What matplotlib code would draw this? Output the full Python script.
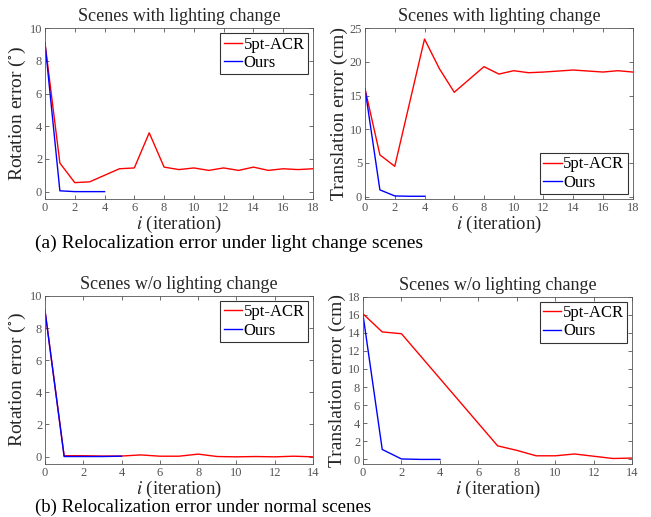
import matplotlib
matplotlib.use("Agg")
import matplotlib.pyplot as plt

plt.rcParams['font.family'] = ['Liberation Serif', 'DejaVu Serif']
plt.rcParams['mathtext.fontset'] = 'stix'

# rotation error, lighting change
rot_light_x_acr = [0, 1, 2, 3, 4, 5, 6, 7, 8, 9, 10, 11, 12, 13, 14, 15, 16, 17, 18]
rot_light_acr = [9.1, 1.75, 0.55, 0.6, 1.0, 1.4, 1.45, 3.6, 1.5, 1.35, 1.45, 1.3, 1.45, 1.3, 1.5, 1.3, 1.4, 1.35, 1.4]
rot_light_x_ours = [0, 1, 2, 3, 4]
rot_light_ours = [9.1, 0.05, 0.0, 0.0, 0.0]

# translation error, lighting change
trans_light_x_acr = [0, 1, 2, 4, 5, 6, 8, 9, 10, 11, 12, 14, 16, 17, 18]
trans_light_acr = [16.0, 6.2, 4.5, 23.4, 19.0, 15.5, 19.3, 18.2, 18.7, 18.4, 18.5, 18.8, 18.5, 18.7, 18.5]
trans_light_x_ours = [0, 1, 2, 3, 4]
trans_light_ours = [16.0, 1.0, 0.1, 0.05, 0.05]

# rotation error, no lighting change
rot_norm_x_acr = [0, 1, 2, 3, 4, 5, 6, 7, 8, 9, 10, 11, 12, 13, 14]
rot_norm_acr = [9.1, 0.05, 0.05, 0.03, 0.03, 0.1, 0.02, 0.02, 0.15, 0.0, -0.02, 0.0, -0.02, 0.02, -0.02]
rot_norm_x_ours = [0, 1, 2, 3, 4]
rot_norm_ours = [9.1, 0.0, 0.0, 0.0, 0.02]

# translation error, no lighting change
trans_norm_x_acr = [0, 1, 2, 7, 8, 9, 10, 11, 12, 13, 14]
trans_norm_acr = [16.1, 14.1, 13.9, 1.5, 1.0, 0.4, 0.4, 0.6, 0.35, 0.1, 0.15]
trans_norm_x_ours = [0, 1, 2, 3, 4]
trans_norm_ours = [16.0, 1.1, 0.05, 0.0, 0.0]

fig = plt.figure(figsize=(6.51, 5.17), dpi=100)

gray = '#262626'
tick_gray = '#555555'


def setup(ax, title, ylabel, xmax, ylim, yticks, legend_loc):
    ax.set_xlim(0, xmax)
    ax.set_ylim(*ylim)
    ax.set_xticks(range(0, xmax + 1, 2))
    ax.set_yticks(yticks)
    ax.tick_params(direction='in', top=True, right=True, length=3, width=0.6,
                   labelsize=9, colors=tick_gray, pad=2)
    for s in ax.spines.values():
        s.set_color(tick_gray)
        s.set_linewidth(0.6)
    ax.set_title(title, fontsize=13, color=gray, pad=5)
    ax.set_ylabel(ylabel, fontsize=14, color=gray, labelpad=1)
    ax.set_xlabel('$i$ (iteration)', fontsize=13.5, color=gray, labelpad=0)
    leg = ax.legend(loc=legend_loc, fontsize=12, fancybox=False, handlelength=1.1,
                    handletextpad=0.1, borderpad=0.2, labelspacing=0.15,
                    borderaxespad=0.3)
    leg.get_frame().set_edgecolor('black')
    leg.get_frame().set_linewidth(0.8)


ax1 = fig.add_axes([0.0691, 0.6145, 0.4117, 0.3308])
ax1.plot(rot_light_x_acr, rot_light_acr, color='red', lw=1.0, label='5pt-ACR')
ax1.plot(rot_light_x_ours, rot_light_ours, color='blue', lw=1.0, label='Ours')
setup(ax1, 'Scenes with lighting change', 'Rotation error ($^{\\circ}$)', 18,
      (-0.47, 10), [0, 2, 4, 6, 8, 10], 'upper right')

ax2 = fig.add_axes([0.5607, 0.6145, 0.4112, 0.3308])
ax2.plot(trans_light_x_acr, trans_light_acr, color='red', lw=1.0, label='5pt-ACR')
ax2.plot(trans_light_x_ours, trans_light_ours, color='blue', lw=1.0, label='Ours')
setup(ax2, 'Scenes with lighting change', 'Translation error (cm)', 18,
      (-0.4, 25), [0, 5, 10, 15, 20, 25], 'lower right')

ax3 = fig.add_axes([0.0691, 0.1030, 0.4117, 0.3245])
ax3.plot(rot_norm_x_acr, rot_norm_acr, color='red', lw=1.0, label='5pt-ACR')
ax3.plot(rot_norm_x_ours, rot_norm_ours, color='blue', lw=1.0, label='Ours')
setup(ax3, 'Scenes w/o lighting change', 'Rotation error ($^{\\circ}$)', 14,
      (-0.45, 10), [0, 2, 4, 6, 8, 10], 'upper right')

ax4 = fig.add_axes([0.5576, 0.1030, 0.4136, 0.3232])
ax4.plot(trans_norm_x_acr, trans_norm_acr, color='red', lw=1.0, label='5pt-ACR')
ax4.plot(trans_norm_x_ours, trans_norm_ours, color='blue', lw=1.0, label='Ours')
setup(ax4, 'Scenes w/o lighting change', 'Translation error (cm)', 14,
      (-0.48, 18), list(range(0, 19, 2)), 'upper right')

fig.text(0.054, 1 - 243 / 517, '(a) Relocalization error under light change scenes',
         fontsize=14, color='black', va='center')
fig.text(0.054, 1 - 507 / 517, '(b) Relocalization error under normal scenes',
         fontsize=13.5, color='black', va='center')

fig.savefig('out.png', dpi=100)
